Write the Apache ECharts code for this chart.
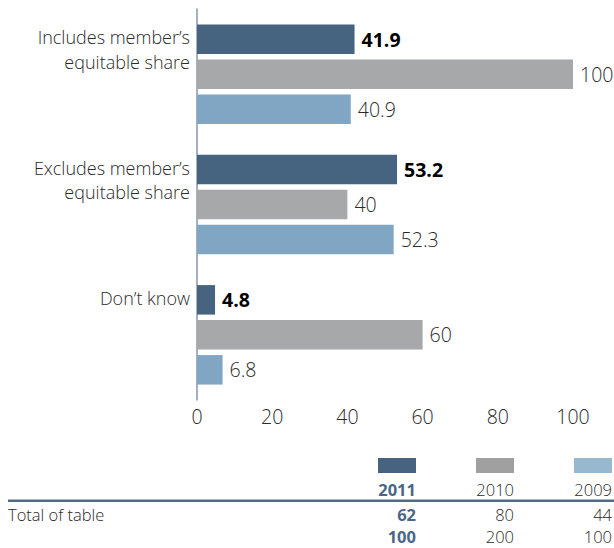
<!DOCTYPE html>
<html>
<head>
<meta charset="utf-8">
<script src="https://cdn.jsdelivr.net/npm/echarts@6/dist/echarts.min.js"></script>
<style>
html,body{margin:0;padding:0;background:#fff;}
#chart{width:614px;height:548px;}
</style>
</head>
<body>
<div id="chart"></div>
<script>
var categories = ['Includes member\u2019s\nequitable share', 'Excludes member\u2019s\nequitable share', 'Don\u2019t know'];
var years = ['2011', '2010', '2009'];
var values2011 = [41.9, 53.2, 4.8];
var values2010 = [100, 40, 60];
var values2009 = [40.9, 52.3, 6.8];
var xTicks = [0, 20, 40, 60, 80, 100];
var tableRowLabel = 'Total of table';
var tableRow1 = [62, 80, 44];
var tableRow2 = [100, 200, 100];

var FONT = '"Open Sans", sans-serif';
var FS = 19.5;
var CFS = 18;
var TFS = 16.5;
var barColors = ['#46637f', '#a7a8aa', '#80a6c4'];
var swatchColors = ['#46637f', '#a0a0a0', '#97b9cf'];
var seriesValues = [values2011, values2010, values2009];

var chart = echarts.init(document.getElementById('chart'), null, {renderer: 'svg'});

var series = seriesValues.map(function (vals, i) {
  return {
    name: years[i],
    type: 'bar',
    data: vals,
    barWidth: 29.5,
    barGap: '18.6%',
    itemStyle: {color: barColors[i]},
    label: {
      show: true,
      position: 'right',
      distance: 7,
      fontFamily: FONT,
      fontSize: FS,
      fontWeight: i === 0 ? 'bold' : 300,
      color: i === 0 ? '#000' : '#2a2a2a',
      formatter: function (p) { return String(p.value); }
    },
    silent: true,
    animation: false
  };
});

var colRight = [416, 514, 612];
var graphics = [];
graphics.push({type: 'rect', shape: {x: 8, y: 499.5, width: 606, height: 2.6}, style: {fill: '#506a88'}, silent: true});
graphics.push({type: 'text', style: {text: tableRowLabel, x: 8, y: 514, align: 'left', verticalAlign: 'middle', textAlign: 'left', textVerticalAlign: 'middle', font: '300 ' + TFS + 'px ' + FONT, fill: '#2a2a2a'}, silent: true});
years.forEach(function (y, i) {
  var bold = i === 0;
  var col = bold ? '#4b6787' : '#2a2a2a';
  var tf = (bold ? 'bold ' : '300 ') + TFS + 'px ' + FONT;
  graphics.push({type: 'rect', shape: {x: colRight[i] - 38, y: 458, width: 38, height: 15}, style: {fill: swatchColors[i]}, silent: true});
  graphics.push({type: 'text', style: {text: y, x: colRight[i], y: 489.5, align: 'right', verticalAlign: 'middle', textAlign: 'right', textVerticalAlign: 'middle', font: tf, fill: col}, silent: true});
  graphics.push({type: 'text', style: {text: String(tableRow1[i]), x: colRight[i], y: 514, align: 'right', verticalAlign: 'middle', textAlign: 'right', textVerticalAlign: 'middle', font: tf, fill: col}, silent: true});
  graphics.push({type: 'text', style: {text: String(tableRow2[i]), x: colRight[i], y: 536.5, align: 'right', verticalAlign: 'middle', textAlign: 'right', textVerticalAlign: 'middle', font: tf, fill: col}, silent: true});
});

chart.setOption({
  animation: false,
  grid: {left: 197, right: 41, top: 9, bottom: 148, containLabel: false},
  xAxis: {
    type: 'value',
    min: xTicks[0],
    max: xTicks[xTicks.length - 1],
    interval: xTicks[1] - xTicks[0],
    axisLine: {show: false},
    axisTick: {show: false},
    splitLine: {show: false},
    axisLabel: {fontFamily: FONT, fontSize: FS, fontWeight: 300, color: '#2a2a2a', margin: 6}
  },
  yAxis: {
    type: 'category',
    data: categories,
    inverse: true,
    axisLine: {show: true, lineStyle: {color: '#8497ab', width: 1.5}},
    axisTick: {show: false},
    axisLabel: {
      fontFamily: FONT, fontSize: CFS, fontWeight: 300, color: '#2a2a2a',
      margin: 7, lineHeight: 24.5, align: 'right',
      formatter: function (v) {
        var n = v.split('\n').length;
        return v + new Array(4 - n + 1).join('\n');
      }
    }
  },
  series: series,
  graphic: graphics
});
</script>
</body>
</html>
